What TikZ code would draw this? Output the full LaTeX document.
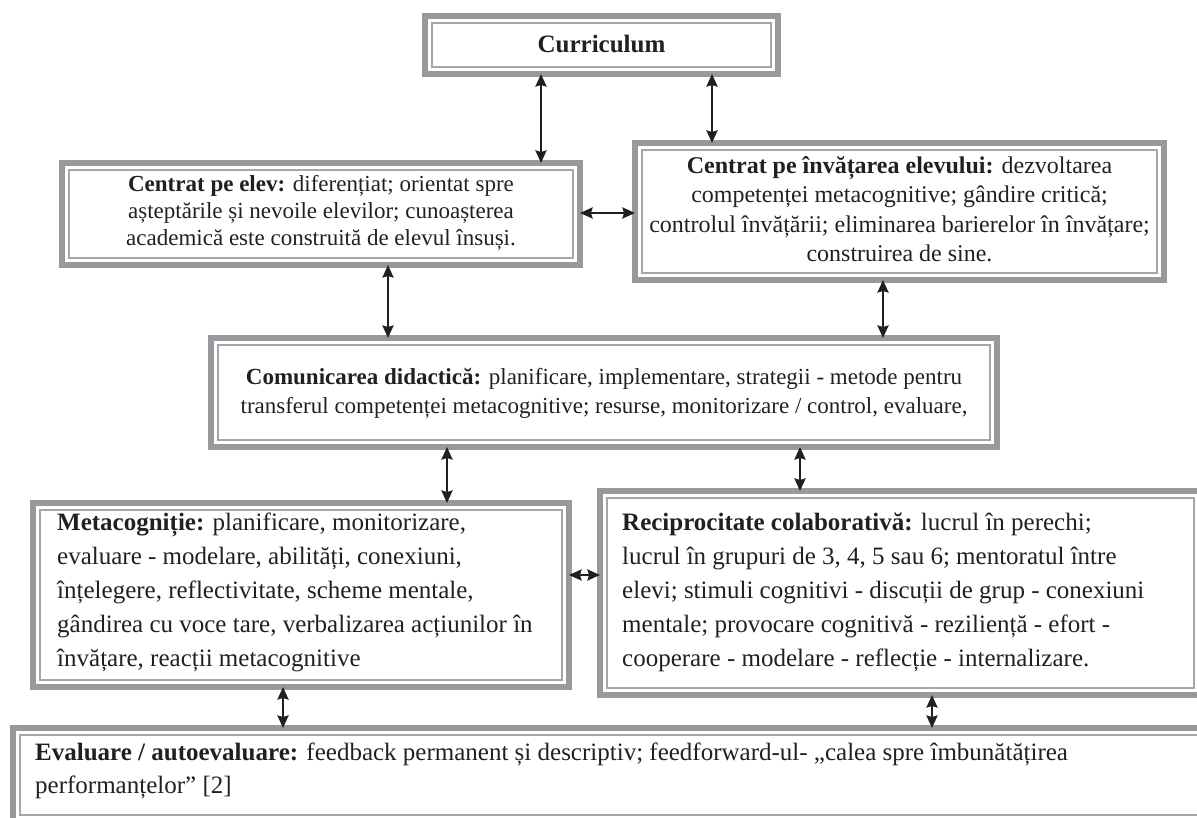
\documentclass[tikz,border=0pt]{standalone}
\usepackage{fontspec}
\setmainfont{Liberation Serif}
\usetikzlibrary{arrows.meta}
\definecolor{thickgray}{RGB}{152,153,157}
\definecolor{thingray}{RGB}{165,166,170}
\definecolor{ink}{RGB}{35,31,32}
\tikzset{
  box/.style={draw=thickgray, line width=6pt, inner sep=0pt, rectangle,
    path picture={\draw[thingray, line width=1.6pt]
      ([shift={(7pt,-7pt)}]path picture bounding box.north west) rectangle
      ([shift={(-7pt,7pt)}]path picture bounding box.south east);}},
  txta/.style={inner sep=0pt, text=ink, font=\fontsize{23}{27}\selectfont},
  txtc/.style={inner sep=0pt, text=ink, font=\fontsize{23}{29}\selectfont},
  txtb/.style={inner sep=0pt, text=ink, font=\fontsize{24}{29.5}\selectfont},
  txtw/.style={inner sep=0pt, text=ink, font=\fontsize{25}{34}\selectfont},
  txtf/.style={inner sep=0pt, text=ink, font=\fontsize{25}{33}\selectfont},
  arr/.style={draw=ink, line width=2.3pt,
    {Stealth[length=12.5pt,width=11pt,inset=1.5pt]}-{Stealth[length=12.5pt,width=11pt,inset=1.5pt]},
    shorten <=-3pt, shorten >=-3pt}
}
\begin{document}
\begin{tikzpicture}[x=1pt,y=-1pt]
\useasboundingbox (0,0) rectangle (1197,818);
\begin{scope}
\clip (0,0) rectangle (1197,818);
% boxes
\node[box, minimum width=353pt, minimum height=58pt] (cur) at (601.5,45) {};
\node[box, minimum width=518pt, minimum height=102pt] (A) at (321,214) {};
\node[box, minimum width=529pt, minimum height=137pt] (B) at (899.5,211.5) {};
\node[box, minimum width=786pt, minimum height=109pt] (C) at (604,392.5) {};
\node[box, minimum width=536pt, minimum height=184pt] (D) at (301,595) {};
\node[box, minimum width=601pt, minimum height=204pt] (E) at (900.5,593) {};
\node[box, minimum width=1202pt, minimum height=94pt] (F) at (614,775) {};
\end{scope}
% texts
\node[inner sep=0pt, text=ink, font=\fontsize{25}{29.5}\selectfont, anchor=base] (tcur) at (601.5,53) {\textbf{Curriculum}};
\node[txta, anchor=north, align=center] (tA) at (321,175.5) {\textbf{Centrat pe elev:} diferențiat; orientat spre\\așteptările și nevoile elevilor; cunoașterea\\academică este construită de elevul însuși.};
\node[txtb, anchor=north, align=center] (tB) at (899.5,156) {\textbf{Centrat pe învățarea elevului:} dezvoltarea\\competenței metacognitive; gândire critică;\\controlul învățării; eliminarea barierelor în învățare;\\construirea de sine.};
\node[txtc, anchor=north, align=center] (tC) at (604,368.5) {\textbf{Comunicarea didactică:} planificare, implementare, strategii - metode pentru\\transferul competenței metacognitive; resurse, monitorizare / control, evaluare,};
\node[txtw, anchor=north west, align=left] (tD) at (57,512.5) {\textbf{Metacogniție:} planificare, monitorizare,\\evaluare - modelare, abilități, conexiuni,\\înțelegere, reflectivitate, scheme mentale,\\gândirea cu voce tare, verbalizarea acțiunilor în\\învățare, reacții metacognitive};
\node[txtw, anchor=north west, align=left] (tE) at (622,512.5) {\textbf{Reciprocitate colaborativă:} lucrul în perechi;\\lucrul în grupuri de 3, 4, 5 sau 6; mentoratul între\\elevi; stimuli cognitivi - discuții de grup - conexiuni\\mentale; provocare cognitivă - reziliență - efort -\\cooperare - modelare - reflecție - internalizare.};
\node[txtf, anchor=north west, align=left] (tF) at (35,742.5) {\textbf{Evaluare / autoevaluare:} feedback permanent și descriptiv; feedforward-ul- „calea spre îmbunătățirea\\performanțelor” [2]};
% connectors
\draw[arr] (541,0 |- cur.south) -- (541,0 |- A.north);
\draw[arr] (712,0 |- cur.south) -- (712,0 |- B.north);
\draw[arr] (A.east |- 0,213) -- (B.west |- 0,213);
\draw[arr] (388,0 |- A.south) -- (388,0 |- C.north);
\draw[arr] (883,0 |- B.south) -- (883,0 |- C.north);
\draw[arr] (447,0 |- C.south) -- (447,0 |- D.north);
\draw[arr] (800,0 |- C.south) -- (800,0 |- E.north);
\draw[arr] (D.east |- 0,575) -- (E.west |- 0,575);
\draw[arr] (283,0 |- D.south) -- (283,0 |- F.north);
\draw[arr] (932,0 |- E.south) -- (932,0 |- F.north);
\end{tikzpicture}
\end{document}
